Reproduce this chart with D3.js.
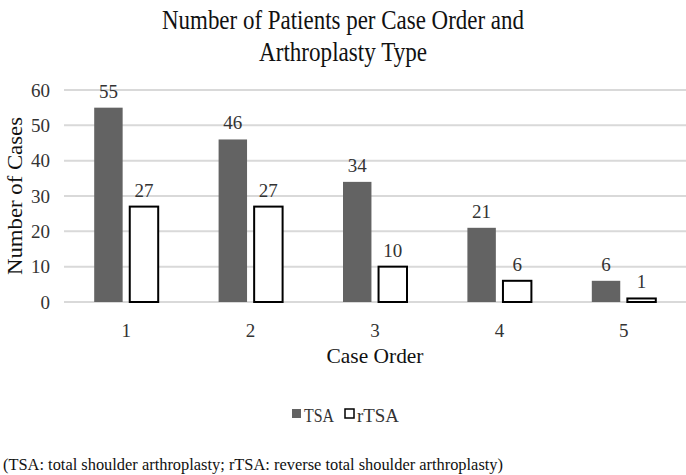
<!DOCTYPE html>
<html>
<head>
<meta charset="utf-8">
<script src="https://cdn.jsdelivr.net/npm/d3@7"></script>
<style>
body { margin: 0; background: #fff; }
text { font-family: "Liberation Serif", "DejaVu Serif", serif; fill: #333; }
</style>
</head>
<body>
<div id="chart"></div>
<script>
// data
const caseOrder = ["1", "2", "3", "4", "5"]
const tsaCounts = [55, 46, 34, 21, 6]
const rtsaCounts = [27, 27, 10, 6, 1]
const yTicks = [0, 10, 20, 30, 40, 50, 60]
const seriesNames = ["TSA", "rTSA"]

var serif = "'Liberation Serif', 'DejaVu Serif', serif"
var width = 686, height = 475
var margin = {top: 90, right: 0, bottom: 173, left: 64}
var plotW = width - margin.left - margin.right
var plotH = height - margin.top - margin.bottom

var svg = d3.select("#chart").append("svg")
    .attr("width", width)
    .attr("height", height)

// title, two lines
var title = svg.append("text")
    .attr("x", 343)
    .attr("text-anchor", "middle")
    .style("font-family", serif)
    .style("font-size", "28px")
    .style("fill", "#111")
title.append("tspan").attr("x", 343).attr("y", 29).text("Number of Patients per Case Order and")
    .attr("textLength", 362).attr("lengthAdjust", "spacingAndGlyphs")
title.append("tspan").attr("x", 343).attr("y", 61).text("Arthroplasty Type")
    .attr("textLength", 168).attr("lengthAdjust", "spacingAndGlyphs")

var g = svg.append("g")
    .attr("transform", "translate(" + margin.left + "," + margin.top + ")")

var x0 = d3.scaleBand()
    .domain(caseOrder)
    .range([0, plotW])
    .paddingInner(0)

var x1 = d3.scaleBand()
    .domain(seriesNames)
    .range([x0.bandwidth() / 2 - 32, x0.bandwidth() / 2 + 32])
    .paddingInner(0.2)

var y = d3.scaleLinear()
    .domain([0, 60])
    .range([plotH, 0])

// gridlines
g.selectAll(".grid")
    .data(yTicks)
  .enter().append("line")
    .attr("class", "grid")
    .attr("x1", 0)
    .attr("x2", plotW)
    .attr("y1", function(d) { return y(d) })
    .attr("y2", function(d) { return y(d) })
    .attr("stroke", "#d9d9d9")
    .attr("stroke-width", 2)

// y axis labels
var yAxis = g.append("g")
    .attr("transform", "translate(-6,0)")
    .call(d3.axisLeft(y).tickValues(yTicks).tickSize(0).tickPadding(8))
yAxis.select(".domain").remove()
yAxis.selectAll("text")
    .style("font-family", serif)
    .style("font-size", "19px")
    .attr("fill", "#333")

// x axis labels
var xAxis = g.append("g")
    .attr("transform", "translate(0," + plotH + ")")
    .call(d3.axisBottom(x0).tickSize(0).tickPadding(22))
xAxis.select(".domain").remove()
xAxis.selectAll("text")
    .style("font-family", serif)
    .style("font-size", "19px")
    .attr("fill", "#333")

var rows = caseOrder.map(function(c, i) {
    return {cat: c, vals: [
        {name: "TSA", v: tsaCounts[i]},
        {name: "rTSA", v: rtsaCounts[i]}
    ]}
})

var groups = g.selectAll(".grp")
    .data(rows)
  .enter().append("g")
    .attr("class", "grp")
    .attr("transform", function(d) { return "translate(" + x0(d.cat) + ",0)" })

groups.selectAll("rect")
    .data(function(d) { return d.vals })
  .enter().append("rect")
    .attr("x", function(d) { return x1(d.name) })
    .attr("width", x1.bandwidth())
    .attr("y", function(d) { return y(d.v) })
    .attr("height", function(d) { return plotH - y(d.v) })
    .attr("fill", function(d) { return d.name == "TSA" ? "#636363" : "#fff" })
    .attr("stroke", function(d) { return d.name == "TSA" ? "none" : "#000" })
    .attr("stroke-width", 2)

groups.selectAll(".lbl")
    .data(function(d) { return d.vals })
  .enter().append("text")
    .attr("class", "lbl")
    .attr("x", function(d) { return x1(d.name) + x1.bandwidth() / 2 })
    .attr("y", function(d) { return y(d.v) - 10 })
    .attr("text-anchor", "middle")
    .style("font-family", serif)
    .style("font-size", "19px")
    .text(function(d) { return d.v })

// axis titles
svg.append("text")
    .attr("transform", "translate(22," + (margin.top + plotH / 2) + ") rotate(-90)")
    .attr("text-anchor", "middle")
    .style("font-family", serif)
    .style("font-size", "21px")
    .style("fill", "#111")
    .attr("textLength", 158)
    .attr("lengthAdjust", "spacingAndGlyphs")
    .text("Number of Cases")

svg.append("text")
    .attr("x", margin.left + plotW / 2)
    .attr("y", 363)
    .attr("text-anchor", "middle")
    .style("font-family", serif)
    .style("font-size", "21px")
    .style("fill", "#111")
    .attr("textLength", 97)
    .attr("lengthAdjust", "spacingAndGlyphs")
    .text("Case Order")

// legend
var legend = svg.append("g").attr("transform", "translate(292,408)")
var items = [{name: "TSA", x: 0, w: 30}, {name: "rTSA", x: 53, w: 42}]
legend.selectAll("rect")
    .data(items)
  .enter().append("rect")
    .attr("x", function(d) { return d.x })
    .attr("y", 1)
    .attr("width", 9)
    .attr("height", 9)
    .attr("fill", function(d) { return d.name == "TSA" ? "#636363" : "#fff" })
    .attr("stroke", function(d) { return d.name == "TSA" ? "none" : "#000" })
    .attr("stroke-width", 1.5)
legend.selectAll("text")
    .data(items)
  .enter().append("text")
    .attr("x", function(d) { return d.x + 12 })
    .attr("y", 14)
    .style("font-family", serif)
    .style("font-size", "19px")
    .attr("textLength", function(d) { return d.w })
    .attr("lengthAdjust", "spacingAndGlyphs")
    .text(function(d) { return d.name })

// footnote
svg.append("text")
    .attr("x", 3)
    .attr("y", 470)
    .style("font-family", serif)
    .style("font-size", "16px")
    .style("fill", "#111")
    .attr("textLength", 500)
    .attr("lengthAdjust", "spacingAndGlyphs")
    .text("(TSA: total shoulder arthroplasty; rTSA: reverse total shoulder arthroplasty)")
</script>
</body>
</html>
